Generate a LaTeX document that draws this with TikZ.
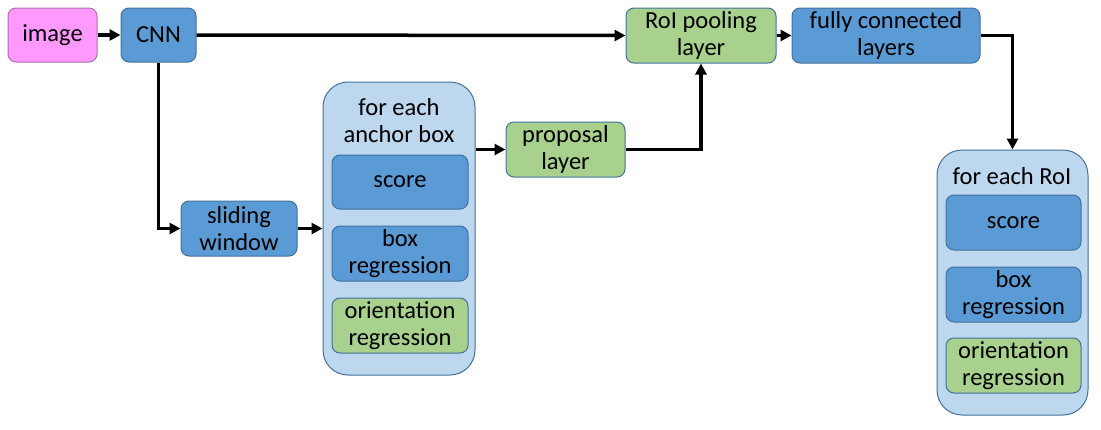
\documentclass[tikz,border=0pt]{standalone}
\usepackage{fontspec}
\setmainfont{Carlito}
\usetikzlibrary{arrows.meta}
\definecolor{bluefill}{HTML}{5B9BD5}
\definecolor{blueline}{HTML}{41719C}
\definecolor{greenfill}{HTML}{A9D18E}
\definecolor{pinkfill}{HTML}{FF99FF}
\definecolor{pinkline}{HTML}{B070B0}
\definecolor{lightfill}{HTML}{BDD7EE}
\begin{document}
\begin{tikzpicture}[x=1pt,y=-1pt,
  font=\fontsize{24.5}{27}\selectfont,
  box/.style={draw=blueline,line width=1pt,rounded corners=8pt,inner sep=0pt,align=center},
  bluebox/.style={box,fill=bluefill},
  greenbox/.style={box,fill=greenfill},
  pinkbox/.style={box,fill=pinkfill,draw=pinkline},
  container/.style={draw=blueline,line width=1pt,fill=lightfill,rounded corners=25pt,inner sep=0pt},
  title/.style={inner sep=0pt,align=center},
  conn/.style={line width=3.5pt,-{Triangle[length=11pt,width=11pt]}}
]
\useasboundingbox (0,0) rectangle (1101,429);
\node[pinkbox,minimum width=89pt,minimum height=54pt] (image) at (52.5,35) {image};
\node[bluebox,minimum width=75pt,minimum height=54pt] (cnn) at (158.5,35) {CNN};
\node[greenbox,minimum width=150pt,minimum height=55pt] (roi) at (701,35.5) {RoI pooling\\layer};
\node[bluebox,minimum width=188pt,minimum height=55pt] (fc) at (886,35.5) {fully connected\\layers};
\node[bluebox,minimum width=116pt,minimum height=55pt] (slide) at (239,228.5) {sliding\\window};
\node[container,minimum width=152pt,minimum height=293pt] (c1) at (399,228.5) {};
\node[title] (t1) at (399,121) {for each\\anchor box};
\node[bluebox,minimum width=136pt,minimum height=54pt] (s1) at (400,182) {score};
\node[bluebox,minimum width=136pt,minimum height=55pt] (b1) at (400,253.5) {box\\regression};
\node[greenbox,minimum width=136pt,minimum height=55pt] (o1) at (400,325.5) {orientation\\regression};
\node[greenbox,minimum width=119pt,minimum height=55pt] (prop) at (565.5,149.5) {proposal\\layer};
\node[container,minimum width=151pt,minimum height=265pt] (c2) at (1012.5,282.5) {};
\node[title] (t2) at (1012,176) {for each RoI};
\node[bluebox,minimum width=135pt,minimum height=55pt] (s2) at (1013.5,222.5) {score};
\node[bluebox,minimum width=135pt,minimum height=55pt] (b2) at (1013.5,294.5) {box\\regression};
\node[greenbox,minimum width=135pt,minimum height=55pt] (o2) at (1013.5,365.5) {orientation\\regression};
\draw[conn] (image) -- (cnn);
\draw[conn] (cnn.east) -- (roi.west);
\draw[conn] (roi) -- (fc);
\draw[conn] (cnn.south) |- (slide.west);
\draw[conn] (slide.east) -- (slide.east -| c1.west);
\draw[conn] (c1.east |- prop.west) -- (prop.west);
\draw[conn] (prop.east) -| (roi.south);
\draw[conn] (fc.east) -| (c2.north);
\end{tikzpicture}
\end{document}
